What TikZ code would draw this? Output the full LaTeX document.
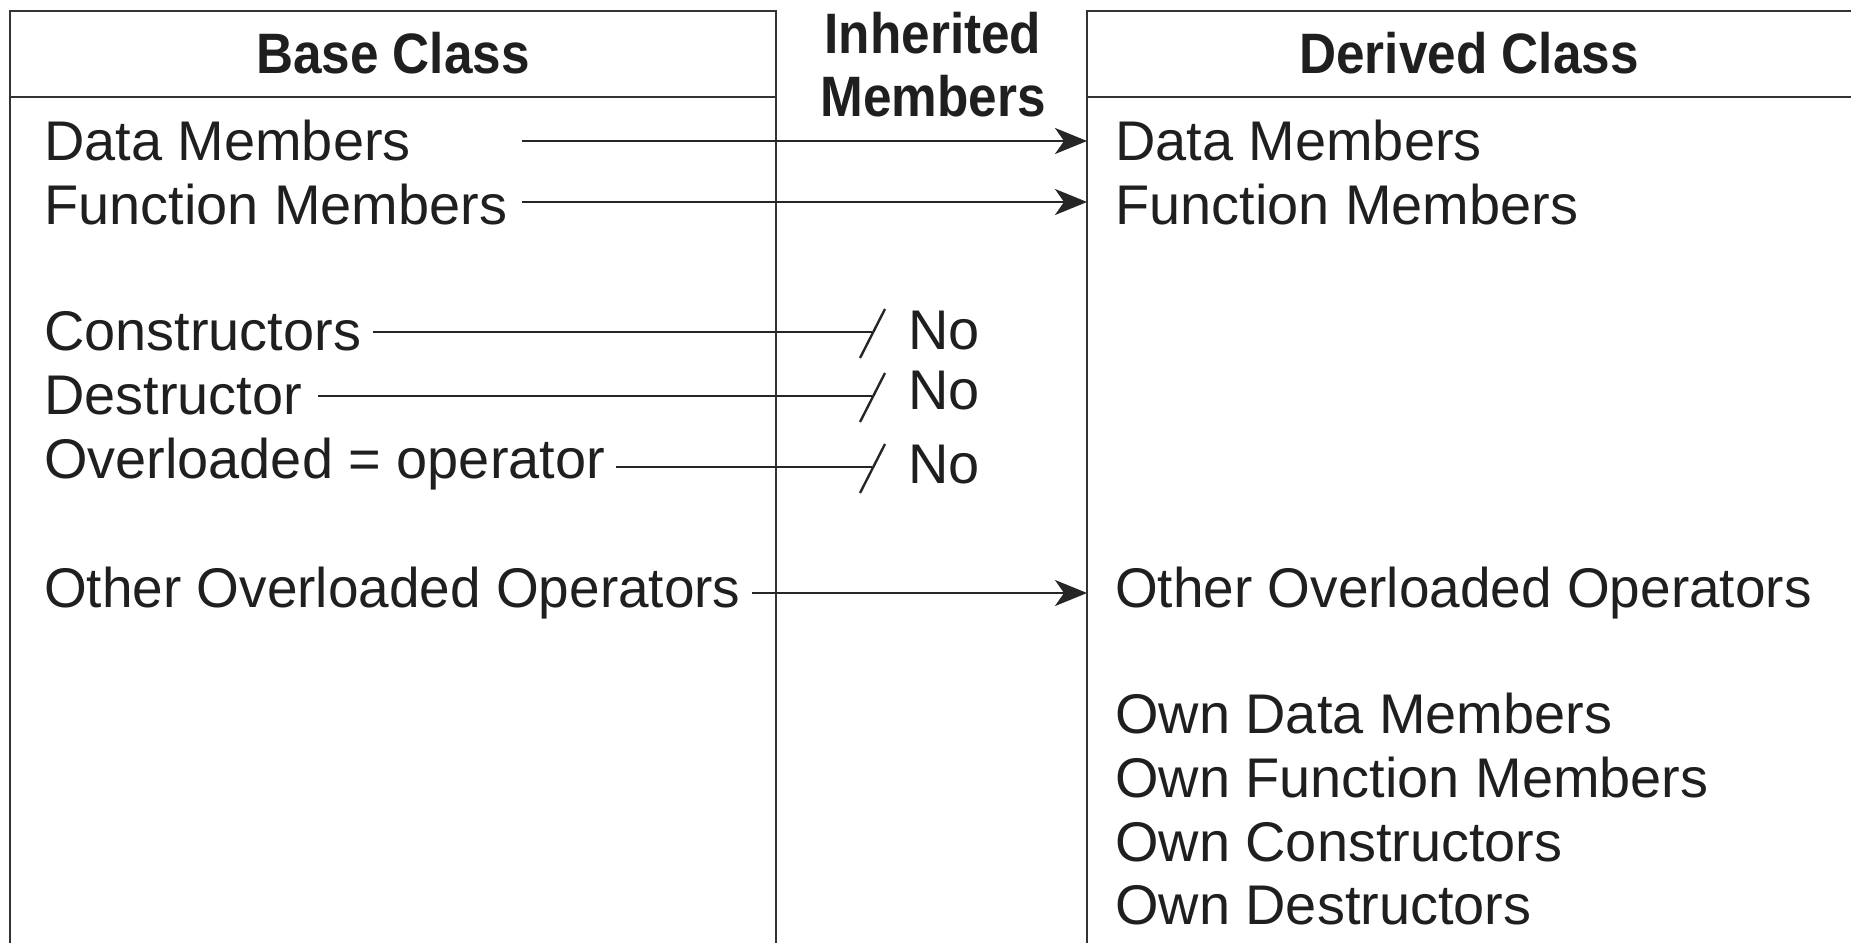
\documentclass[tikz,border=0pt]{standalone}
\usepackage{fontspec}
\setmainfont{Liberation Sans}
\newfontfamily\hdfont{Liberation Sans}[FakeStretch=0.9]
\newfontfamily\narrowfont{Liberation Sans}[FakeStretch=0.983]
\usetikzlibrary{arrows.meta,calc}
\begin{document}
\begin{tikzpicture}[x=1pt,y=-1pt,
  ln/.style={line width=2.4pt, draw=black!85},
  frame/.style={line width=2pt, draw=black!80},
  lbl/.style={anchor=base west, inner sep=0pt, font=\fontsize{55.9}{67}\selectfont, text=black!88},
  nlbl/.style={lbl, font=\narrowfont\fontsize{55.9}{67}\selectfont},
  hd/.style={anchor=base, inner sep=0pt, font=\hdfont\bfseries\fontsize{57}{68}\selectfont, text=black!88},
  arr/.style={ln, -{Stealth[length=32pt,width=26pt,inset=9pt]}},
]
\useasboundingbox (0,0) rectangle (1851,943);
% frames
\draw[frame] (9.5,943) -- (9.5,10.5) -- (776,10.5) -- (776,943);
\draw[frame] (9.5,97) -- (776,97);
\draw[frame] (1087,943) -- (1087,10.5) -- (1851,10.5);
\draw[frame] (1087,97) -- (1851,97);
% headers
\node[hd] (hbase) at (393,73) {Base Class};
\node[hd] (hinh1) at (933,53) {Inherited};
\node[hd] (hinh2) at (933,116) {Members};
\node[hd] (hder) at (1469,73) {Derived Class};
% base class items
\node[lbl] (bdm) at (44,160) {Data Members};
\node[lbl] (bfm) at (44,224) {Function Members};
\node[lbl] (bco) at (44,350.7) {Constructors};
\node[lbl] (bde) at (44,414) {Destructor};
\node[lbl] (bov) at (44,478) {Overloaded = operator};
\node[nlbl] (bot) at (44,607) {Other Overloaded Operators};
% derived class items
\node[lbl] (ddm) at (1115,160) {Data Members};
\node[lbl] (dfm) at (1115,224) {Function Members};
\node[nlbl] (dot) at (1115,607) {Other Overloaded Operators};
\node[lbl] (odm) at (1115,733) {Own Data Members};
\node[lbl] (ofm) at (1115,797) {Own Function Members};
\node[lbl] (oco) at (1115,861) {Own Constructors};
\node[lbl] (ode) at (1115,924) {Own Destructors};
% No labels
\node[lbl] (no1) at (908,349) {No};
\node[lbl] (no2) at (908,409) {No};
\node[lbl] (no3) at (908,483) {No};
% connector ends
\coordinate (s1) at (522,141); \coordinate (e1) at (1087,141);
\coordinate (s2) at (522,202); \coordinate (e2) at (1087,202);
\coordinate (s3) at (373,332); \coordinate (e3) at (872,332);
\coordinate (s4) at (318,396); \coordinate (e4) at (872,396);
\coordinate (s5) at (616,467); \coordinate (e5) at (872,467);
\coordinate (s6) at (752,593); \coordinate (e6) at (1087,593);
% inherited
\draw[arr] (s1) -- (e1);
\draw[arr] (s2) -- (e2);
\draw[arr] (s6) -- (e6);
% not inherited
\foreach \e in {e3,e4,e5}{
  \draw[ln] ($(\e)+(-12,26)$) -- ($(\e)+(13,-23)$);
}
\draw[ln] (s3) -- (e3);
\draw[ln] (s4) -- (e4);
\draw[ln] (s5) -- (e5);
\end{tikzpicture}
\end{document}
